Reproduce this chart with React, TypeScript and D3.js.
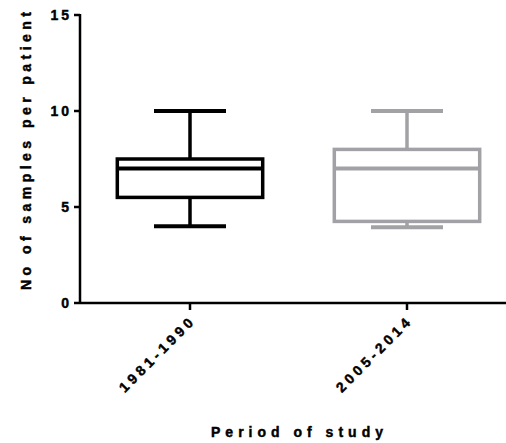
import React from 'react';
import * as d3 from 'd3';

const periods = ['1981-1990', '2005-2014'];
const minVals = [4, 3.95];
const q1Vals = [5.5, 4.25];
const medianVals = [7, 7];
const q3Vals = [7.5, 8];
const maxVals = [10, 10];
const colors = ['#000000', '#a2a2a6'];
const yTicks = [0, 5, 10, 15];

const W = 506;
const H = 443;
const font = 'Arial, "Liberation Sans", sans-serif';

export default function App() {
  const x = d3
    .scaleBand()
    .domain(periods)
    .range([81.5, 515.5])
    .paddingInner(0.33)
    .paddingOuter(0.165);
  const y = d3.scaleLinear().domain([0, 15]).range([303, 15]);
  const left = 80;
  const capW = 72;
  const sw = 3.5;
  const txt = {
    fontFamily: font,
    fontWeight: 700 as const,
    fill: '#000',
    stroke: '#000',
    strokeWidth: 0.45,
  };

  return (
    <svg
      width={W}
      height={H}
      style={{ position: 'absolute', left: 0, top: 0, background: '#fff' }}
    >
      {periods.map((p, i) => {
        const cx = (x(p) ?? 0) + x.bandwidth() / 2;
        const bx = x(p) ?? 0;
        const c = colors[i];
        return (
          <g key={p} stroke={c} strokeWidth={sw} fill="none">
            <line x1={cx} x2={cx} y1={y(maxVals[i])} y2={y(q3Vals[i])} />
            <line x1={cx} x2={cx} y1={y(q1Vals[i])} y2={y(minVals[i])} />
            <line x1={cx - capW / 2} x2={cx + capW / 2} y1={y(maxVals[i])} y2={y(maxVals[i])} strokeWidth={4} />
            <line x1={cx - capW / 2} x2={cx + capW / 2} y1={y(minVals[i])} y2={y(minVals[i])} strokeWidth={4} />
            <rect
              x={bx}
              y={y(q3Vals[i])}
              width={x.bandwidth()}
              height={y(q1Vals[i]) - y(q3Vals[i])}
              fill="#fff"
            />
            <line x1={bx} x2={bx + x.bandwidth()} y1={y(medianVals[i])} y2={y(medianVals[i])} strokeWidth={4} />
          </g>
        );
      })}

      {/* y axis */}
      <line x1={left} x2={left} y1={y(15) - 1} y2={y(0) + 1} stroke="#000" strokeWidth={2.5} />
      {yTicks.map((t) => (
        <g key={t}>
          <line x1={left - 6} x2={left} y1={y(t)} y2={y(t)} stroke="#000" strokeWidth={2.5} />
          <text
            x={left - 8}
            y={y(t)}
            dy="0.36em"
            textAnchor="end"
            fontSize={14}
            letterSpacing={3}
            style={txt}
          >
            {t}
          </text>
        </g>
      ))}

      {/* x axis */}
      <line x1={left} x2={W} y1={y(0)} y2={y(0)} stroke="#000" strokeWidth={2.5} />
      {periods.map((p) => {
        const cx = (x(p) ?? 0) + x.bandwidth() / 2;
        return (
          <g key={p}>
            <line x1={cx} x2={cx} y1={y(0)} y2={y(0) + 7} stroke="#000" strokeWidth={2.5} />
            <text
              transform={`translate(${cx + 4},${y(0) + 21}) rotate(-45)`}
              textAnchor="end"
              fontSize={14}
              textLength={98}
              lengthAdjust="spacing"
              style={txt}
            >
              {p}
            </text>
          </g>
        );
      })}

      <text
        x={297}
        y={437}
        textAnchor="middle"
        fontSize={14}
        textLength={172}
        lengthAdjust="spacing"
        style={txt}
      >
        Period of study
      </text>
      <text
        transform="translate(31,151) rotate(-90)"
        textAnchor="middle"
        fontSize={14}
        textLength={278}
        lengthAdjust="spacing"
        style={txt}
      >
        No of samples per patient
      </text>
    </svg>
  );
}
